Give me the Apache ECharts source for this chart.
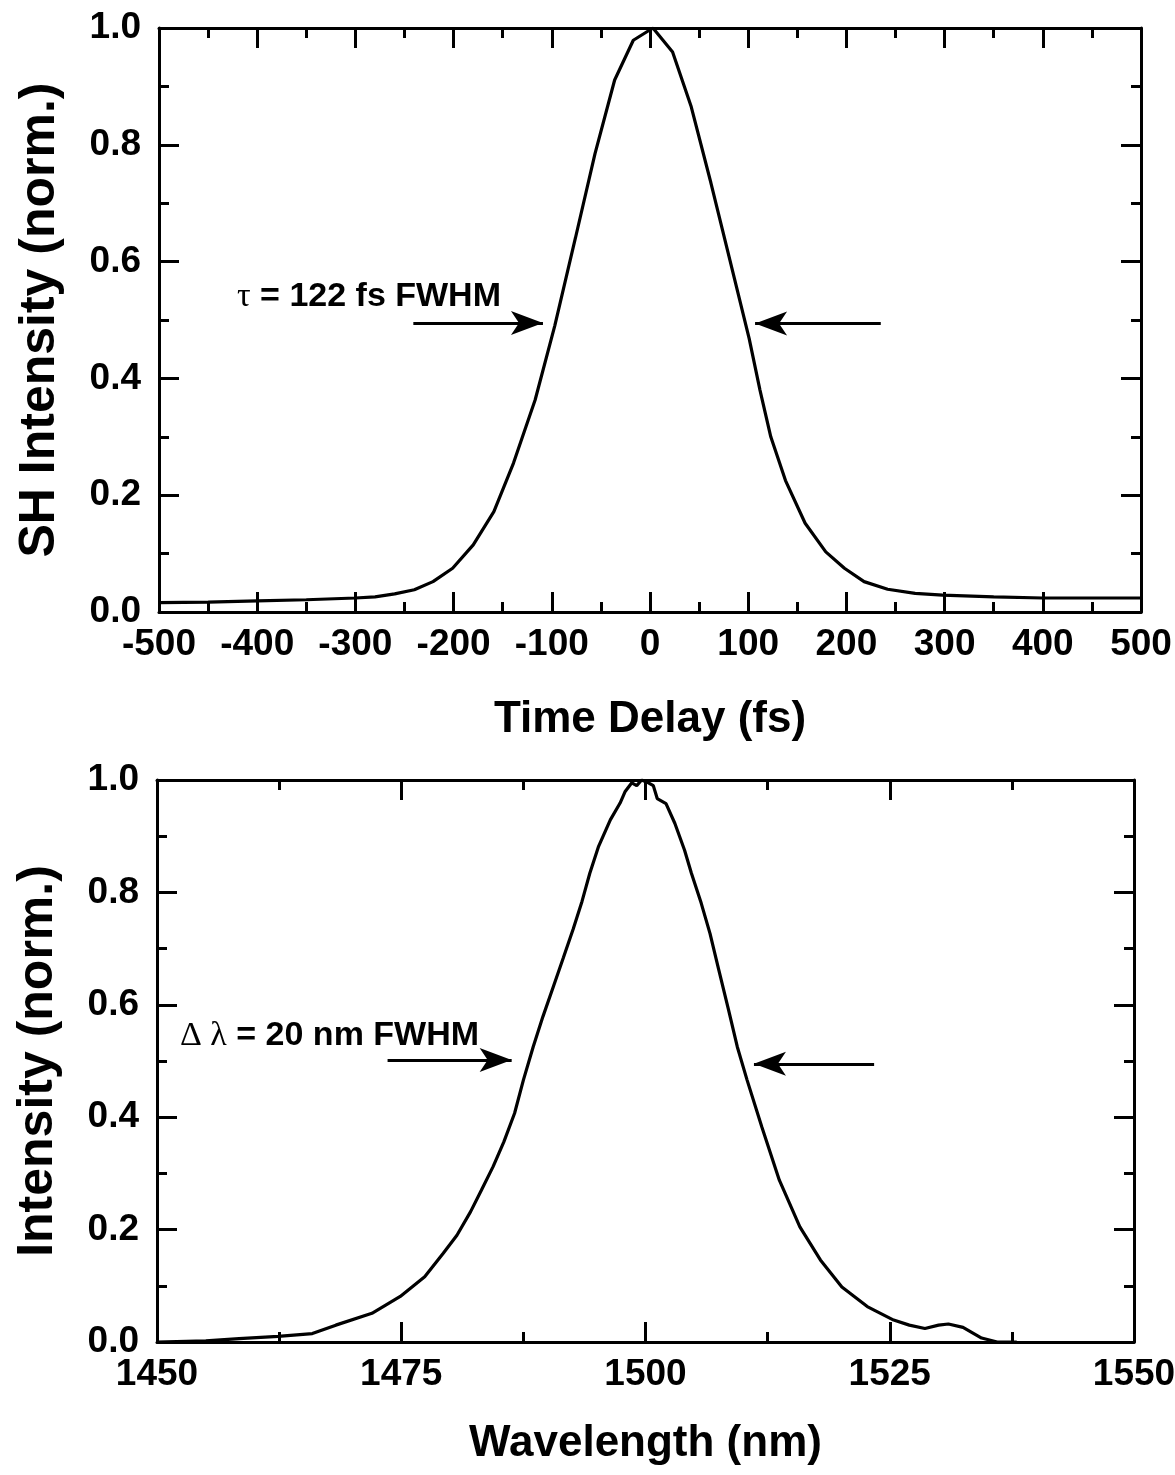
<!DOCTYPE html>
<html>
<head>
<meta charset="utf-8">
<script src="https://cdn.jsdelivr.net/npm/echarts@6/dist/echarts.min.js"></script>
<style>
html,body{margin:0;padding:0;background:#fff;}
#c{width:1175px;height:1475px;}
</style>
</head>
<body>
<div id="c"></div>
<script>
// ---- Data: top panel (autocorrelation) ----
var delayFs = [-500,-450,-400,-350,-300,-280,-260,-240,-221,-201,-180,-159,-139,-117,-97,-76,-56,-36,-17,3,23,42,62,81,101,112,123,138,158,179,198,218,242,270,298,350,400,450,500];
var shIntensity = [0.016,0.017,0.019,0.021,0.024,0.026,0.031,0.038,0.052,0.075,0.115,0.172,0.255,0.363,0.49,0.64,0.785,0.911,0.979,1.0,0.959,0.865,0.735,0.605,0.468,0.38,0.30,0.225,0.152,0.103,0.075,0.052,0.039,0.032,0.029,0.026,0.024,0.024,0.024];

// ---- Data: bottom panel (spectrum) ----
var wavelengthNm = [1450,1455,1458.4,1462.4,1465.9,1468.3,1472,1474.9,1477.4,1479.3,1480.7,1482.1,1483.2,1484.4,1485.5,1486.6,1487.5,1488.5,1489.5,1490.6,1491.6,1492.6,1493.5,1494.3,1495.2,1496.4,1497.4,1497.9,1498.6,1499.1,1499.6,1500.3,1500.8,1501.2,1502.1,1503,1504,1504.7,1505.7,1506.6,1507.5,1508.5,1509.4,1510.4,1511.9,1513.7,1515.8,1517.9,1520.1,1522.7,1525.4,1527,1528.6,1530,1531,1532.5,1534.4,1536,1538];
var specIntensity = [0,0.002,0.006,0.01,0.015,0.03,0.051,0.081,0.116,0.158,0.19,0.232,0.27,0.312,0.356,0.407,0.466,0.525,0.579,0.634,0.684,0.735,0.784,0.834,0.882,0.929,0.959,0.979,0.995,0.99,1.0,0.995,0.99,0.967,0.958,0.923,0.875,0.834,0.781,0.727,0.662,0.591,0.525,0.466,0.383,0.288,0.205,0.146,0.098,0.063,0.039,0.03,0.024,0.03,0.032,0.026,0.007,0,0];

// ---- Axis ranges / labels ----
var topX = {min:-500, max:500, interval:100, title:'Time Delay (fs)'};
var botX = {min:1450, max:1550, interval:25, title:'Wavelength (nm)'};
var yRange = {min:0, max:1, interval:0.2};
var topYTitle = 'SH Intensity (norm.)';
var botYTitle = 'Intensity (norm.)';

// ---- Annotations (data coords) ----
var topArrows = [[[-241,0.495],[-109,0.495]],[[235,0.494],[107,0.494]]];
var botArrows = [[[1473.6,0.502],[1486.3,0.502]],[[1523.4,0.495],[1511.1,0.495]]];

var FONT = "'Liberation Sans', Arial, Helvetica, sans-serif";
var SERIF = "'Liberation Serif', 'Times New Roman', serif";

function xAxisDef(g, r, pos, show) {
  return {
    type:'value', gridIndex:g, position:pos, min:r.min, max:r.max, interval:r.interval,
    name: show ? r.title : '', nameLocation:'middle', nameGap: g===0 ? 86 : 80,
    nameTextStyle:{fontFamily:FONT, fontWeight:'bold', fontSize:44, color:'#000'},
    axisLine:{show:true, onZero:false, lineStyle:{color:'#000', width:3}},
    axisTick:{show:true, inside:true, length:20, lineStyle:{color:'#000', width:3}},
    minorTick:{show:true, splitNumber:2, length:10, lineStyle:{color:'#000', width:3}},
    splitLine:{show:false}, minorSplitLine:{show:false},
    axisLabel:{show:show, margin:14, fontFamily:FONT, fontWeight:'bold', fontSize:37, color:'#000',
      formatter:function(v){return String(v);},
      showMinLabel:true, showMaxLabel:true, hideOverlap:false},
    silent:true
  };
}
function yAxisDef(g, pos, show, title) {
  return {
    type:'value', gridIndex:g, position:pos, min:yRange.min, max:yRange.max, interval:yRange.interval,
    name: show ? title : '', nameLocation:'middle', nameGap: 94, nameRotate:90,
    nameTextStyle:{fontFamily:FONT, fontWeight:'bold', fontSize:50, color:'#000'},
    axisLine:{show:true, onZero:false, lineStyle:{color:'#000', width:3}},
    axisTick:{show:true, inside:true, length:20, lineStyle:{color:'#000', width:3}},
    minorTick:{show:true, splitNumber:2, length:10, lineStyle:{color:'#000', width:3}},
    splitLine:{show:false}, minorSplitLine:{show:false},
    axisLabel:{show:show, margin:18, fontFamily:FONT, fontWeight:'bold', fontSize:37, color:'#000',
      formatter:function(v){return v.toFixed(1);}, showMinLabel:true, showMaxLabel:true, hideOverlap:false},
    silent:true
  };
}
function arrowLines(arr) {
  return arr.map(function(a){ return [{coord:a[0]},{coord:a[1]}]; });
}
function zip(xs, ys){ return xs.map(function(x,i){return [x, ys[i]];}); }

var chart = echarts.init(document.getElementById('c'), null, {renderer:'canvas'});
chart.setOption({
  animation:false,
  backgroundColor:'#fff',
  grid:[
    {left:159, right:34, top:28, height:584, containLabel:false, outerBoundsMode:'none'},
    {left:157, right:41, top:780, height:562, containLabel:false, outerBoundsMode:'none'}
  ],
  xAxis:[
    xAxisDef(0, topX, 'bottom', true),
    xAxisDef(0, topX, 'top', false),
    xAxisDef(1, botX, 'bottom', true),
    xAxisDef(1, botX, 'top', false)
  ],
  yAxis:[
    yAxisDef(0, 'left', true, topYTitle),
    yAxisDef(0, 'right', false, ''),
    yAxisDef(1, 'left', true, botYTitle),
    yAxisDef(1, 'right', false, '')
  ],
  series:[
    {type:'line', xAxisIndex:0, yAxisIndex:0, data:zip(delayFs, shIntensity), symbol:'none', smooth:false,
      lineStyle:{color:'#000', width:3.2}, silent:true,
      markLine:{silent:true, symbol:['none','arrow'], symbolSize:[18,32], label:{show:false},
        lineStyle:{color:'#000', width:3, type:'solid'}, data:arrowLines(topArrows)}},
    {type:'line', xAxisIndex:2, yAxisIndex:2, data:zip(wavelengthNm, specIntensity), symbol:'none', smooth:false,
      lineStyle:{color:'#000', width:3.2}, silent:true,
      markLine:{silent:true, symbol:['none','arrow'], symbolSize:[18,32], label:{show:false},
        lineStyle:{color:'#000', width:3, type:'solid'}, data:arrowLines(botArrows)}}
  ],
  graphic:[
    {type:'text', left:237, top:280, silent:true, style:{
      text:'{g|τ} = 122 fs FWHM', fill:'#000',
      font:"bold 34px " + FONT,
      rich:{g:{fontFamily:SERIF, fontWeight:'normal', fontSize:34, fill:'#000'}}
    }},
    {type:'text', left:180, top:1019, silent:true, style:{
      text:'{g|Δ λ} = 20 nm FWHM', fill:'#000',
      font:"bold 34px " + FONT,
      rich:{g:{fontFamily:SERIF, fontWeight:'normal', fontSize:34, fill:'#000'}}
    }}
  ]
});
</script>
</body>
</html>
